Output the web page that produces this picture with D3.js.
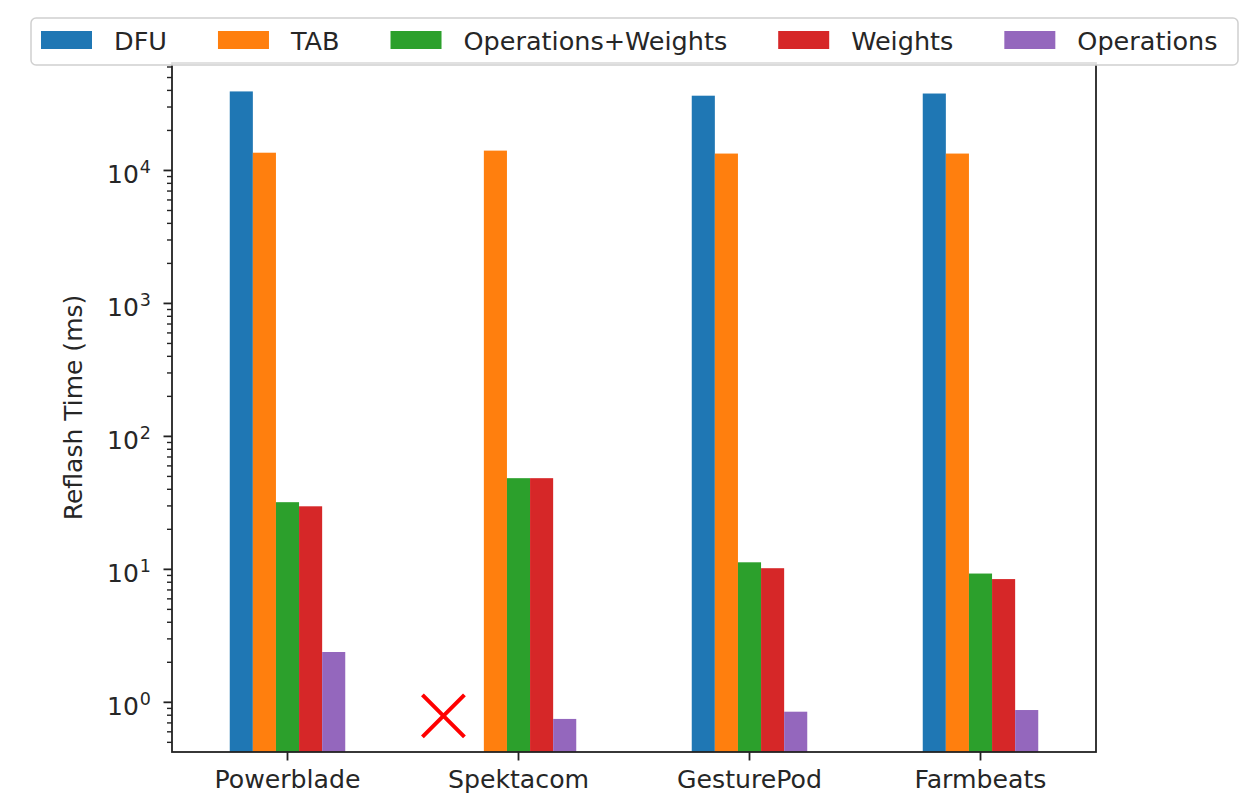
<!DOCTYPE html>
<html>
<head>
<meta charset="utf-8">
<script src="https://cdn.jsdelivr.net/npm/d3@7"></script>
<style>
  body { margin: 0; background: #fff; }
  svg text { font-family: "DejaVu Sans", sans-serif; fill: #262626; }
</style>
</head>
<body>
<svg id="chart"></svg>
<script>
// values (log scale, ms)
var categories = ["Powerblade", "Spektacom", "GesturePod", "Farmbeats"]
var seriesNames = ["DFU", "TAB", "Operations+Weights", "Weights", "Operations"]
var seriesColors = ["#1f77b4", "#ff7f0e", "#2ca02c", "#d62728", "#9467bd"]

var dfu        = [39300, null, 36500, 37900]
var tab        = [13600, 14100, 13400, 13400]
var opsWeights = [32, 48.5, 11.3, 9.3]
var weights    = [29.8, 48.5, 10.2, 8.45]
var operations = [2.39, 0.75, 0.85, 0.875]

var yTickValues = [1, 10, 100, 1000, 10000]
var yTickExp = ["0", "1", "2", "3", "4"]

// missing DFU for Spektacom is shown with a red cross
var missingCategory = "Spektacom"
var missingOffset = -0.325   // in category units
var missingValue = 0.79

var seriesValues = [dfu, tab, opsWeights, weights, operations]

var dimensions = {
    width: 1248,
    height: 808,
    margin: {
        top: 63,
        bottom: 56,
        right: 152,
        left: 172
    }
}

var svg = d3.select("#chart")
    .attr("width", dimensions.width)
    .attr("height", dimensions.height)

var plotBottom = dimensions.height - dimensions.margin.bottom
var plotRight = dimensions.width - dimensions.margin.right

var xScale = d3.scaleBand()
    .domain(categories)
    .range([dimensions.margin.left, plotRight])
    .padding(0)

var step = xScale.bandwidth()

var subScale = d3.scaleBand()
    .domain(seriesNames)
    .range([step * 0.25, step * 0.75])
    .padding(0)

var yScale = d3.scaleLog()
    .domain([0.423, 64300])
    .range([plotBottom, dimensions.margin.top])

// bars
var barData = []
seriesNames.forEach(function(name, si){
    categories.forEach(function(cat, ci){
        var v = seriesValues[si][ci]
        if (v != null) barData.push({series: name, cat: cat, value: v, color: seriesColors[si]})
    })
})

svg.append("g")
    .selectAll("rect")
    .data(barData)
    .enter()
    .append("rect")
    .attr("x", d => xScale(d.cat) + subScale(d.series))
    .attr("width", subScale.bandwidth())
    .attr("y", d => yScale(d.value))
    .attr("height", d => plotBottom - yScale(d.value))
    .attr("fill", d => d.color)

// red cross
var crossX = xScale(missingCategory) + step / 2 + missingOffset * step
var crossY = yScale(missingValue)
var cs = 21
svg.append("path")
    .attr("d", "M" + (crossX - cs) + "," + (crossY - cs) + "L" + (crossX + cs) + "," + (crossY + cs)
        + "M" + (crossX - cs) + "," + (crossY + cs) + "L" + (crossX + cs) + "," + (crossY - cs))
    .attr("stroke", "#ff0000")
    .attr("stroke-width", 4)
    .attr("fill", "none")

// spines
svg.append("rect")
    .attr("x", dimensions.margin.left)
    .attr("y", dimensions.margin.top)
    .attr("width", plotRight - dimensions.margin.left)
    .attr("height", plotBottom - dimensions.margin.top)
    .attr("fill", "none")
    .attr("stroke", "#222")
    .attr("stroke-width", 1.8)

// x axis
var xAxis = svg.append("g")
    .attr("transform", "translate(0," + plotBottom + ")")
    .call(d3.axisBottom(xScale).tickSize(8.5).tickPadding(10))
xAxis.select(".domain").remove()
xAxis.selectAll(".tick line").attr("stroke", "#222").attr("stroke-width", 1.8)
xAxis.selectAll(".tick text")
    .attr("font-size", "25.2px")
    .attr("font-family", "DejaVu Sans, sans-serif")
    .attr("fill", "#262626")

// y axis: minor ticks
var minorTicks = []
for (var e = -1; e <= 4; e++) {
    for (var k = 2; k <= 9; k++) {
        var v = k * Math.pow(10, e)
        if (v >= yScale.domain()[0] && v <= yScale.domain()[1]) minorTicks.push(v)
    }
}
var yAxis = svg.append("g")
    .attr("transform", "translate(" + dimensions.margin.left + ",0)")
yAxis.selectAll("line.minor")
    .data(minorTicks)
    .enter()
    .append("line")
    .attr("class", "minor")
    .attr("x1", -5).attr("x2", 0)
    .attr("y1", d => yScale(d)).attr("y2", d => yScale(d))
    .attr("stroke", "#222")
    .attr("stroke-width", 1.4)

yAxis.selectAll("line.major")
    .data(yTickValues)
    .enter()
    .append("line")
    .attr("class", "major")
    .attr("x1", -8.5).attr("x2", 0)
    .attr("y1", d => yScale(d)).attr("y2", d => yScale(d))
    .attr("stroke", "#222")
    .attr("stroke-width", 1.8)

var yLabels = yAxis.selectAll("text.ylab")
    .data(yTickValues)
    .enter()
    .append("text")
    .attr("class", "ylab")
    .attr("x", -21)
    .attr("y", d => yScale(d) + 13)
    .attr("text-anchor", "end")
    .attr("font-size", "25px")
yLabels.append("tspan").text("10")
yLabels.append("tspan")
    .attr("font-size", "17.5px")
    .attr("dy", -10)
    .attr("dx", 1)
    .text((d, i) => yTickExp[i])

svg.append("text")
    .attr("transform", "translate(82," + ((dimensions.margin.top + plotBottom) / 2) + ") rotate(-90)")
    .attr("text-anchor", "middle")
    .attr("font-size", "25px")
    .text("Reflash Time (ms)")

// legend
var legend = svg.append("g")
var legendFrame = legend.append("rect")
    .attr("x", 31)
    .attr("y", 18)
    .attr("height", 47)
    .attr("rx", 5)
    .attr("fill", "#fff")
    .attr("fill-opacity", 0.85)
    .attr("stroke", "#d0d0d0")
    .attr("stroke-width", 1.5)

var lx = 41
seriesNames.forEach(function(name, i){
    legend.append("rect")
        .attr("x", lx)
        .attr("y", 31)
        .attr("width", 51)
        .attr("height", 18)
        .attr("fill", seriesColors[i])
    var t = legend.append("text")
        .attr("x", lx + 51 + 22)
        .attr("y", 50)
        .attr("font-size", "25.5px")
        .text(name)
    lx = lx + 51 + 22 + t.node().getComputedTextLength() + 51
})
legendFrame.attr("width", 1238 - 31)
</script>
</body>
</html>
